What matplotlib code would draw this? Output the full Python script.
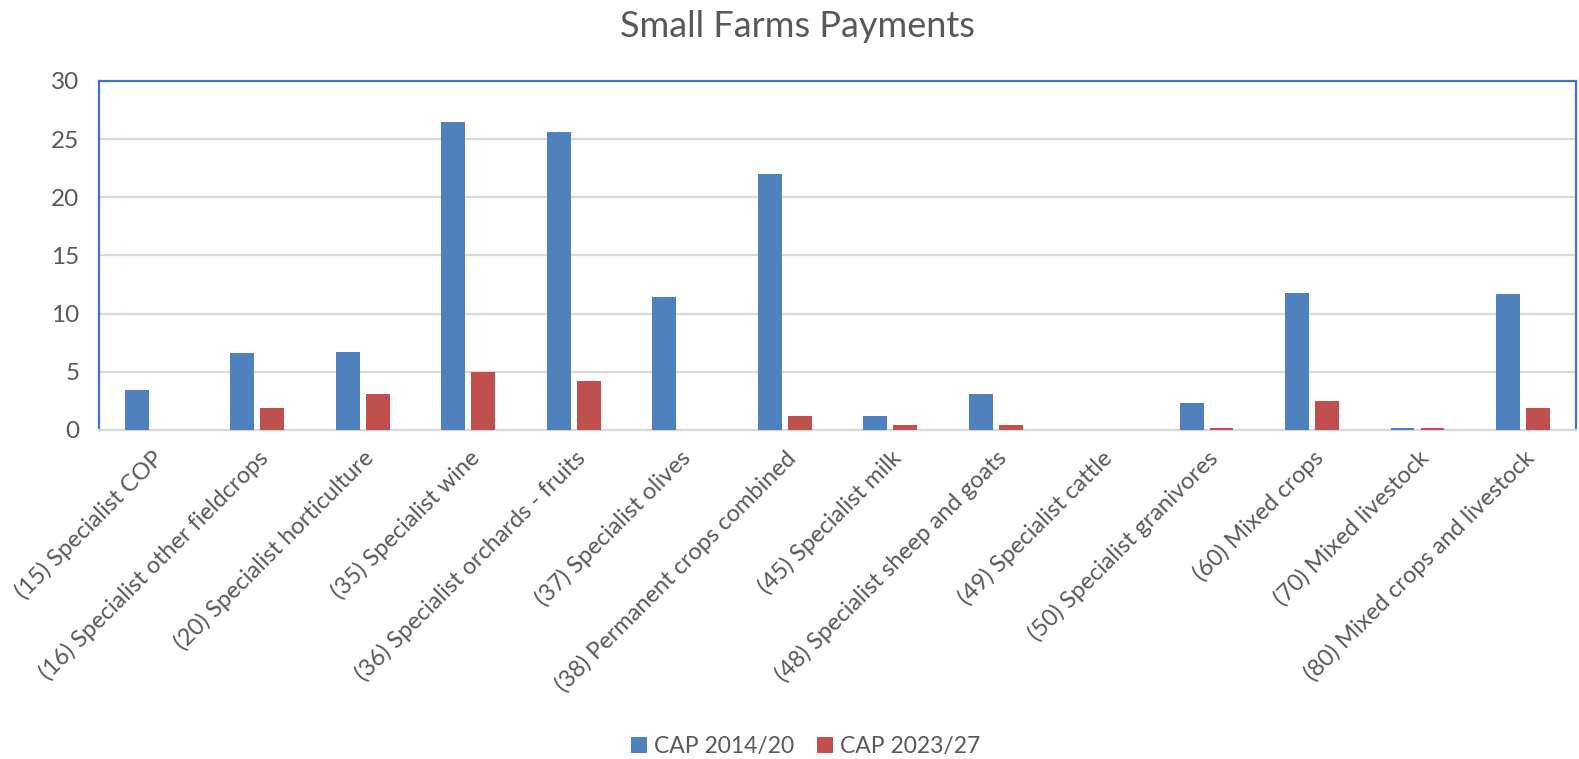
import matplotlib
matplotlib.use("Agg")
import matplotlib.pyplot as plt
import numpy as np

categories = [
    "(15) Specialist COP",
    "(16) Specialist other fieldcrops",
    "(20) Specialist horticulture",
    "(35) Specialist wine",
    "(36) Specialist orchards - fruits",
    "(37) Specialist olives",
    "(38) Permanent crops combined",
    "(45) Specialist milk",
    "(48) Specialist sheep and goats",
    "(49) Specialist cattle",
    "(50) Specialist granivores",
    "(60) Mixed crops",
    "(70) Mixed livestock",
    "(80) Mixed crops and livestock",
]
cap_2014_20 = [3.4, 6.6, 6.7, 26.5, 25.6, 11.4, 22.0, 1.2, 3.1, 0.0, 2.3, 11.8, 0.2, 11.7]
cap_2023_27 = [0.0, 1.9, 3.1, 5.0, 4.2, 0.0, 1.2, 0.4, 0.4, 0.0, 0.2, 2.5, 0.2, 1.9]
series_names = ["CAP 2014/20", "CAP 2023/27"]
yticks = [0, 5, 10, 15, 20, 25, 30]

plt.rcParams['font.family'] = ['Lato', 'DejaVu Sans']
gray = '#595959'

fig = plt.figure(figsize=(15.79, 7.59), dpi=100)
ax = fig.add_axes([0.0627, 0.4335, 0.998 - 0.0627, 0.8933 - 0.4335])

x = np.arange(len(categories))
w = 0.225
off = 0.142
ax.bar(x - off, cap_2014_20, width=w, color='#4f81bd', label=series_names[0], zorder=3)
ax.bar(x + off, cap_2023_27, width=w, color='#c0504d', label=series_names[1], zorder=3)

ax.set_xlim(-0.5, len(categories) - 0.5)
ax.set_ylim(0, 30)
ax.set_yticks(yticks)
ax.set_yticklabels([str(t) for t in yticks], fontsize=17.5, color=gray)
ax.yaxis.grid(True, color='#d9d9d9', linewidth=1.6, zorder=0)
ax.set_axisbelow(True)
ax.tick_params(axis='y', length=0, pad=14)
ax.tick_params(axis='x', length=0, pad=12)
ax.set_xticks(x)
ax.set_xticklabels(categories, rotation=45, ha='right', rotation_mode='anchor',
                   fontsize=17, color=gray)

for s in ['top', 'left', 'right']:
    ax.spines[s].set_color('#4472c4')
    ax.spines[s].set_linewidth(1.6)
ax.spines['bottom'].set_color('#d9d9d9')
ax.spines['bottom'].set_linewidth(1.6)

fig.text(0.505, 0.965, "Small Farms Payments", ha='center', va='center',
         fontsize=26, color=gray)

handles, labels = ax.get_legend_handles_labels()
fig.legend(handles, labels, loc='center', bbox_to_anchor=(0.51, 0.016), ncol=2,
           frameon=False, fontsize=16.5, labelcolor=gray, handlelength=0.7,
           handleheight=0.7, handletextpad=0.3, columnspacing=1.0)

fig.savefig("out.png", dpi=100)
